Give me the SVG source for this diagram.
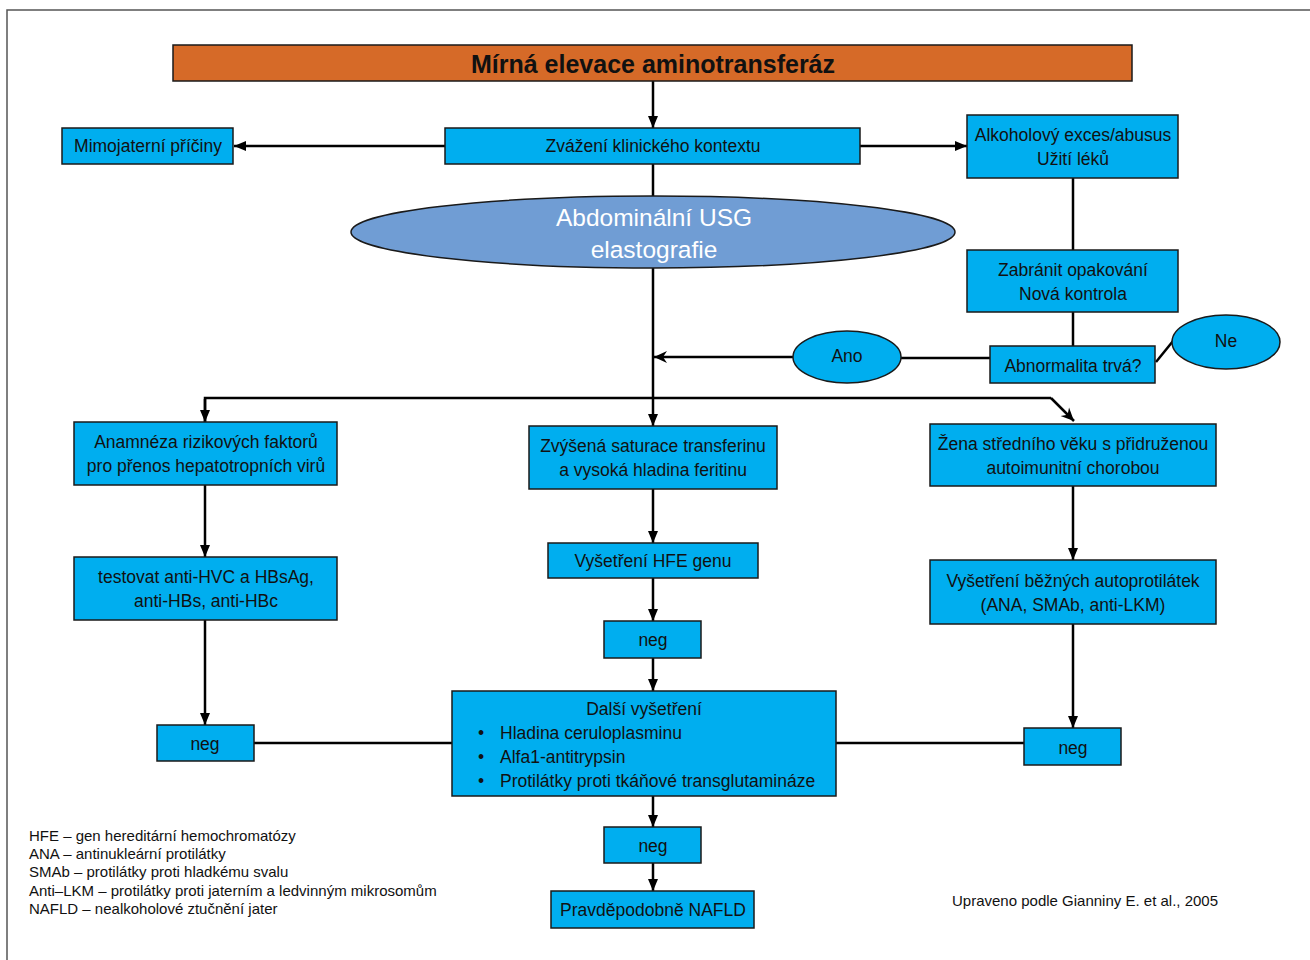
<svg xmlns="http://www.w3.org/2000/svg" width="1310" height="960" viewBox="0 0 1310 960">
<style>
  text { font-family: "Liberation Sans", Arial, sans-serif; fill: #111; }
  .box { fill: #00aeef; stroke: #1a1a1a; stroke-width: 1.5; }
  .lbl { font-size: 17.5px; text-anchor: middle; }
  .it { font-size: 17.5px; }
  .conn { stroke: #000; stroke-width: 2.5; fill: none; }
  .leg { font-size: 15px; }
</style>
<defs>
  <marker id="ah" markerUnits="userSpaceOnUse" markerWidth="12" markerHeight="12" refX="12" refY="6" orient="auto">
    <path d="M0,1 L12,6 L0,11 z" fill="#000"/>
  </marker>
  <marker id="ahn" markerUnits="userSpaceOnUse" markerWidth="14" markerHeight="14" refX="13" refY="7" orient="auto">
    <path d="M0,1 L13,7 L0,13 L4,7 z" fill="#000"/>
  </marker>
</defs>
<rect width="1310" height="960" fill="#fff"/>
<path d="M7,960 L7,10 L1310,10" fill="none" stroke="#555" stroke-width="1.5"/>

<g id="connectors">
  <line class="conn" x1="653" y1="81" x2="653" y2="128" marker-end="url(#ah)"/>
  <line class="conn" x1="445" y1="146" x2="234" y2="146" marker-end="url(#ah)"/>
  <line class="conn" x1="860" y1="146" x2="967" y2="146" marker-end="url(#ah)"/>
  <line class="conn" x1="653" y1="164" x2="653" y2="197"/>
  <line class="conn" x1="653" y1="268" x2="653" y2="426" marker-end="url(#ah)"/>
  <line class="conn" x1="1073" y1="178" x2="1073" y2="250"/>
  <line class="conn" x1="1073" y1="312" x2="1073" y2="346"/>
  <line class="conn" x1="990" y1="358" x2="901" y2="358"/>
  <line class="conn" x1="793" y1="357" x2="654" y2="357" marker-end="url(#ahn)"/>
  <line class="conn" x1="1156" y1="362" x2="1173" y2="341"/>
  <polyline class="conn" points="205,422 205,398 1051,398"/>
  <line class="conn" x1="205" y1="399" x2="205" y2="422" marker-end="url(#ah)"/>
  <line class="conn" x1="1051" y1="398" x2="1074" y2="421" marker-end="url(#ahn)"/>
  <line class="conn" x1="205" y1="485" x2="205" y2="557" marker-end="url(#ah)"/>
  <line class="conn" x1="205" y1="620" x2="205" y2="725" marker-end="url(#ah)"/>
  <line class="conn" x1="653" y1="489" x2="653" y2="543" marker-end="url(#ah)"/>
  <line class="conn" x1="653" y1="578" x2="653" y2="621" marker-end="url(#ah)"/>
  <line class="conn" x1="653" y1="658" x2="653" y2="691" marker-end="url(#ah)"/>
  <line class="conn" x1="1073" y1="486" x2="1073" y2="560" marker-end="url(#ah)"/>
  <line class="conn" x1="1073" y1="624" x2="1073" y2="728" marker-end="url(#ah)"/>
  <line class="conn" x1="254" y1="743" x2="452" y2="743"/>
  <line class="conn" x1="836" y1="743" x2="1024" y2="743"/>
  <line class="conn" x1="653" y1="796" x2="653" y2="827" marker-end="url(#ah)"/>
  <line class="conn" x1="653" y1="863" x2="653" y2="891" marker-end="url(#ah)"/>
</g>

<g id="title">
  <rect x="173" y="45" width="959" height="36" fill="#d66a28" stroke="#1a1a1a" stroke-width="1.5"/>
  <text x="653" y="73" font-size="25" font-weight="bold" text-anchor="middle">Mírná elevace aminotransferáz</text>
</g>
<g id="zvazeni">
  <rect class="box" x="445" y="128" width="415" height="36"/>
  <text class="lbl" x="653" y="152">Zvážení klinického kontextu</text>
</g>
<g id="mimojaterni">
  <rect class="box" x="62" y="128" width="171" height="36"/>
  <text class="lbl" x="148" y="152">Mimojaterní příčiny</text>
</g>
<g id="alkohol">
  <rect class="box" x="967" y="115" width="211" height="63"/>
  <text class="lbl" x="1073" y="141">Alkoholový exces/abusus</text>
  <text class="lbl" x="1073" y="165">Užití léků</text>
</g>
<g id="usg">
  <ellipse cx="653" cy="232" rx="302" ry="36" fill="#709dd4" stroke="#1a1a1a" stroke-width="1.5"/>
  <text x="654" y="226" font-size="24.5" text-anchor="middle" style="fill:#fff">Abdominální USG</text>
  <text x="654" y="258" font-size="24.5" text-anchor="middle" style="fill:#fff">elastografie</text>
</g>
<g id="zabranit">
  <rect class="box" x="967" y="250" width="211" height="62"/>
  <text class="lbl" x="1073" y="276">Zabránit opakování</text>
  <text class="lbl" x="1073" y="300">Nová kontrola</text>
</g>
<g id="abnormalita">
  <rect class="box" x="990" y="346" width="165" height="37"/>
  <text class="lbl" x="1073" y="372">Abnormalita trvá?</text>
</g>
<g id="ano">
  <ellipse cx="847" cy="357" rx="54" ry="26" fill="#00aeef" stroke="#1a1a1a" stroke-width="1.5"/>
  <text class="lbl" x="847" y="362">Ano</text>
</g>
<g id="ne">
  <ellipse cx="1226" cy="342" rx="54" ry="27" fill="#00aeef" stroke="#1a1a1a" stroke-width="1.5"/>
  <text class="lbl" x="1226" y="347">Ne</text>
</g>
<g id="anamneza">
  <rect class="box" x="74" y="422" width="263" height="63"/>
  <text class="lbl" x="206" y="448">Anamnéza rizikových faktorů</text>
  <text class="lbl" x="206" y="472">pro přenos hepatotropních virů</text>
</g>
<g id="zvysena">
  <rect class="box" x="529" y="426" width="248" height="63"/>
  <text class="lbl" x="653" y="452">Zvýšená saturace transferinu</text>
  <text class="lbl" x="653" y="476">a vysoká hladina feritinu</text>
</g>
<g id="zena">
  <rect class="box" x="930" y="424" width="286" height="62"/>
  <text class="lbl" x="1073" y="450">Žena středního věku s přidruženou</text>
  <text class="lbl" x="1073" y="474">autoimunitní chorobou</text>
</g>
<g id="testovat">
  <rect class="box" x="74" y="557" width="263" height="63"/>
  <text class="lbl" x="206" y="583">testovat anti-HVC a HBsAg,</text>
  <text class="lbl" x="206" y="607">anti-HBs, anti-HBc</text>
</g>
<g id="hfe">
  <rect class="box" x="548" y="543" width="210" height="35"/>
  <text class="lbl" x="653" y="567">Vyšetření HFE genu</text>
</g>
<g id="neg-mid">
  <rect class="box" x="604" y="621" width="97" height="37"/>
  <text class="lbl" x="653" y="646">neg</text>
</g>
<g id="autoprotilatky">
  <rect class="box" x="930" y="560" width="286" height="64"/>
  <text class="lbl" x="1073" y="587">Vyšetření běžných autoprotilátek</text>
  <text class="lbl" x="1073" y="611">(ANA, SMAb, anti-LKM)</text>
</g>
<g id="neg-left">
  <rect class="box" x="157" y="725" width="97" height="36"/>
  <text class="lbl" x="205" y="750">neg</text>
</g>
<g id="dalsi">
  <rect class="box" x="452" y="691" width="384" height="105"/>
  <text class="lbl" x="644" y="715">Další vyšetření</text>
  <text class="it" x="478" y="739">•</text>
  <text class="it" x="500" y="739">Hladina ceruloplasminu</text>
  <text class="it" x="478" y="763">•</text>
  <text class="it" x="500" y="763">Alfa1-antitrypsin</text>
  <text class="it" x="478" y="787">•</text>
  <text class="it" x="500" y="787">Protilátky proti tkáňové transglutamináze</text>
</g>
<g id="neg-right">
  <rect class="box" x="1024" y="728" width="97" height="37"/>
  <text class="lbl" x="1073" y="754">neg</text>
</g>
<g id="neg-bottom">
  <rect class="box" x="604" y="827" width="97" height="36"/>
  <text class="lbl" x="653" y="852">neg</text>
</g>
<g id="nafld">
  <rect class="box" x="551" y="891" width="203" height="37"/>
  <text class="lbl" x="653" y="916">Pravděpodobně NAFLD</text>
</g>
<g id="legend">
  <text class="leg" x="29" y="841">HFE – gen hereditární hemochromatózy</text>
  <text class="leg" x="29" y="859">ANA – antinukleární protilátky</text>
  <text class="leg" x="29" y="877">SMAb – protilátky proti hladkému svalu</text>
  <text class="leg" x="29" y="896">Anti–LKM – protilátky proti jaterním a ledvinným mikrosomům</text>
  <text class="leg" x="29" y="914">NAFLD – nealkoholové ztučnění jater</text>
</g>
<g id="credit">
  <text class="leg" x="952" y="906">Upraveno podle Gianniny E. et al., 2005</text>
</g>
</svg>
